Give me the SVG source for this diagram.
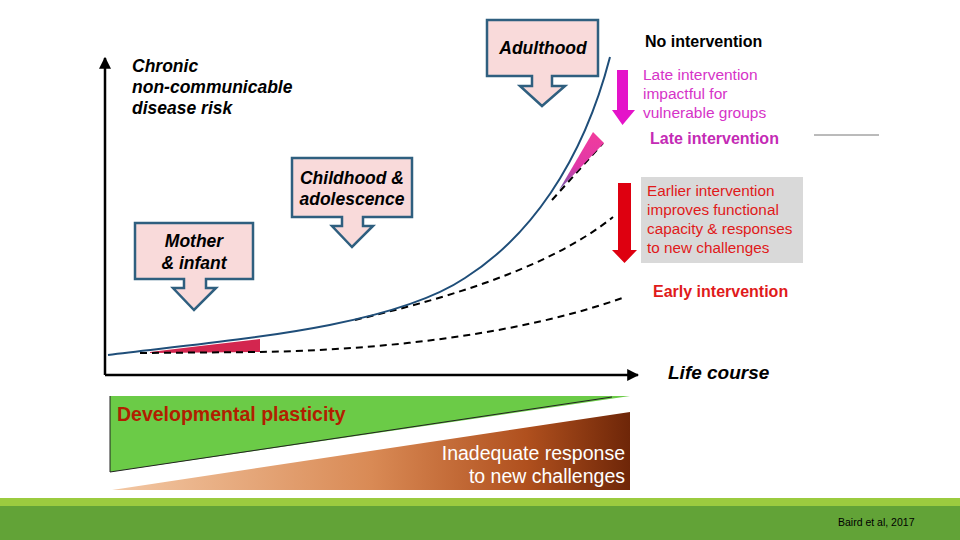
<svg xmlns="http://www.w3.org/2000/svg" width="960" height="540" viewBox="0 0 960 540">
<defs>
<style>
.t{font-family:"Liberation Sans",Arial,sans-serif}
.bi{font-weight:bold;font-style:italic;font-size:17.5px;fill:#000}
.box{fill:#F9DADA;stroke:#2F5F7F;stroke-width:2.5;stroke-linejoin:miter}
.dash{fill:none;stroke:#000;stroke-width:2;stroke-dasharray:7,5}
.mg{fill:#D633C8;font-size:15.5px}
.rd{fill:#E01A1A;font-size:15.3px}
</style>
<linearGradient id="brown" x1="0" y1="0" x2="1" y2="0">
<stop offset="0" stop-color="#F3C8A4"/>
<stop offset="0.5" stop-color="#D98A55"/>
<stop offset="0.8" stop-color="#B0501E"/>
<stop offset="1" stop-color="#6E2608"/>
</linearGradient>
<linearGradient id="pinkw" x1="0" y1="0" x2="0" y2="1">
<stop offset="0" stop-color="#F23C9C"/>
<stop offset="0.6" stop-color="#E038A8"/>
<stop offset="1" stop-color="#6A5AA8"/>
</linearGradient>
<marker id="ah" viewBox="0 0 10 10" refX="9" refY="5" markerWidth="12" markerHeight="12" markerUnits="userSpaceOnUse" orient="auto">
<path d="M0,0 L10,5 L0,10 Z" fill="#000"/>
</marker>
</defs>
<rect width="960" height="540" fill="#fff"/>

<!-- footer -->
<rect x="0" y="498" width="960" height="8" fill="#9BCB3F"/>
<rect x="0" y="506" width="960" height="34" fill="#62A337"/>
<text class="t" x="838" y="526" font-size="10.5" fill="#000">Baird et al, 2017</text>
<line x1="814" y1="135" x2="879" y2="135" stroke="#777" stroke-width="1"/>

<!-- bottom bands -->
<g id="plasticity">
<polygon points="110,396 630,396 110,472" fill="#6BCB47"/>
<polyline points="110,396 110,472 612,397" fill="none" stroke="#222" stroke-width="1"/>
<text class="t" x="117" y="421" font-size="19.5" font-weight="bold" fill="#B21E00">Developmental plasticity</text>
</g>
<g id="inadequate">
<polygon points="112,490 630,412 630,490" fill="url(#brown)"/>
<text class="t" x="625" y="460" font-size="19.5" fill="#fff" text-anchor="end">Inadequate response</text>
<text class="t" x="625" y="483" font-size="19.5" fill="#fff" text-anchor="end">to new challenges</text>
</g>

<!-- connectors / curves -->
<g id="connectors">
<line x1="105" y1="375" x2="105" y2="58" stroke="#000" stroke-width="2.5" marker-end="url(#ah)"/>
<line x1="105" y1="375" x2="638" y2="375" stroke="#000" stroke-width="2.5" marker-end="url(#ah)"/>
<polygon points="150,352 200,346 260,339 260,352 150,353" fill="#D3264F"/>
<path class="dash" d="M140,353 L260,352 C380,350 520,335 625,297"/>
<path class="dash" d="M355,320 C430,302 545,272 613,217"/>
<path class="dash" d="M552,200 C570,180 588,160 603,143"/>
<polygon points="559,190 593,132 604,143" fill="url(#pinkw)"/>
<path d="M108,355 C230,340 390,328 465,278 C528,238 582,165 610,57" fill="none" stroke="#1F4E79" stroke-width="2"/>
<!-- magenta arrow -->
<polygon points="617,70 628,70 628,110 635,110 622.5,125 612,110 617,110" fill="#E413C9"/>
<!-- red arrow -->
<polygon points="618,183 631,183 631,250 637,250 624.5,263 612,250 618,250" fill="#DE0010"/>
</g>

<g id="yaxis-label">
<text class="t bi" x="132" y="72">Chronic</text>
<text class="t bi" x="132" y="93">non-communicable</text>
<text class="t bi" x="132" y="114">disease risk</text>
</g>
<g id="life-course">
<text class="t" x="668" y="379" font-size="19" font-weight="bold" font-style="italic">Life course</text>
</g>

<g id="adulthood">
<path class="box" d="M487,20 H598 V76 H552 V86 H565 L542,106 L520,86 H532 V76 H487 Z"/>
<text class="t bi" x="543" y="54" text-anchor="middle">Adulthood</text>
</g>
<g id="childhood">
<path class="box" d="M292,158 H412 V217 H363 V226 H373 L352,247 L332,226 H342 V217 H292 Z"/>
<text class="t bi" x="352" y="184" text-anchor="middle">Childhood &amp;</text>
<text class="t bi" x="352" y="205" text-anchor="middle">adolescence</text>
</g>
<g id="mother">
<path class="box" d="M135,223 H253 V279 H206 V288 H216 L194,310 L173,288 H184 V279 H135 Z"/>
<text class="t bi" x="194" y="247" text-anchor="middle">Mother</text>
<text class="t bi" x="194" y="269" text-anchor="middle">&amp; infant</text>
</g>

<g id="no-intervention">
<text class="t" x="645" y="47" font-size="16" font-weight="bold" fill="#000">No intervention</text>
</g>
<g id="late-impact">
<text class="t mg" x="643" y="80">Late intervention</text>
<text class="t mg" x="643" y="99">impactful for</text>
<text class="t mg" x="643" y="118">vulnerable groups</text>
</g>
<g id="late-intervention">
<text class="t" x="650" y="144" font-size="16" font-weight="bold" fill="#C42BB5">Late intervention</text>
</g>
<g id="earlier-box">
<rect x="641" y="177" width="162" height="86" fill="#D9D9D9"/>
<text class="t rd" x="647" y="196">Earlier intervention</text>
<text class="t rd" x="647" y="215">improves functional</text>
<text class="t rd" x="647" y="234">capacity &amp; responses</text>
<text class="t rd" x="647" y="253">to new challenges</text>
</g>
<g id="early-intervention">
<text class="t" x="653" y="297" font-size="16" font-weight="bold" fill="#E01A1A">Early intervention</text>
</g>
</svg>
